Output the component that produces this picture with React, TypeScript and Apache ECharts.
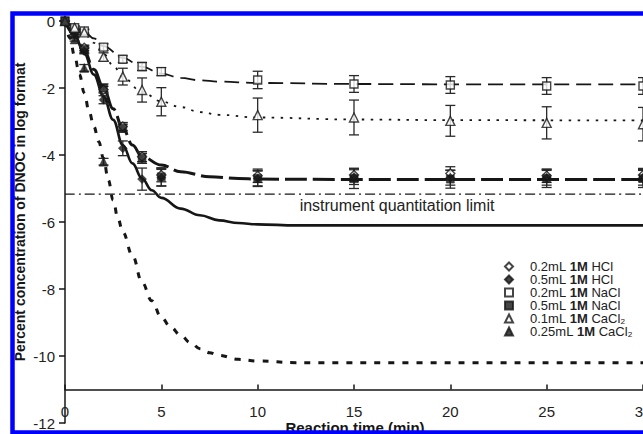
import React, { useEffect, useRef } from "react";
import * as echarts from "echarts";

// ---- data ----
const times = [0, 0.5, 1, 2, 3, 4, 5, 10, 15, 20, 25, 30];

const hcl02 = [0, -0.25, -0.8, -2.05, -3.15, -4.05, -4.6, -4.62, -4.6, -4.55, -4.62, -4.6];
const hcl02Err = [0, 0.05, 0.08, 0.1, 0.12, 0.15, 0.2, 0.2, 0.2, 0.2, 0.2, 0.2];
const hcl05 = [0, -0.35, -0.9, -2.35, -3.8, -4.72, -4.68, -4.7, -4.66, -4.68, -4.68, -4.68];
const hcl05Err = [0, 0.05, 0.08, 0.12, 0.22, 0.33, 0.25, 0.22, 0.22, 0.22, 0.22, 0.22];
const nacl02 = [0, -0.2, -0.3, -0.78, -1.14, -1.36, -1.51, -1.76, -1.88, -1.91, -1.94, -1.94];
const nacl02Err = [0, 0.05, 0.06, 0.1, 0.1, 0.12, 0.12, 0.26, 0.25, 0.25, 0.25, 0.25];
const nacl05 = [0, -0.4, -0.85, -2.0, -3.2, -4.1, -4.65, -4.7, -4.7, -4.72, -4.7, -4.7];
const nacl05Err = [0, 0.06, 0.1, 0.12, 0.12, 0.15, 0.27, 0.24, 0.3, 0.27, 0.27, 0.27];
const cacl01 = [0, -0.2, -0.34, -1.07, -1.66, -2.06, -2.41, -2.81, -2.88, -2.98, -3.04, -3.08];
const cacl01Err = [0, 0.05, 0.08, 0.12, 0.25, 0.36, 0.42, 0.51, 0.52, 0.46, 0.48, 0.5];
const cacl025Times = [0, 0.5, 1, 2];
const cacl025 = [0, -0.55, -1.4, -4.2];
const cacl025Err = [0, 0.05, 0.1, 0.1];

// fitted curves
const fitNaCl02: number[][] = [[0, 0], [0.5, -0.15], [1, -0.32], [1.5, -0.52], [2, -0.75], [3, -1.1], [4, -1.37], [5, -1.57], [6, -1.7], [7, -1.77], [8, -1.81], [10, -1.85], [15, -1.88], [20, -1.89], [30, -1.89]];
const fitCaCl01: number[][] = [[0, 0], [0.5, -0.15], [1, -0.38], [1.5, -0.65], [2, -0.98], [2.5, -1.33], [3, -1.68], [4, -2.12], [5, -2.4], [6, -2.57], [7, -2.72], [8, -2.8], [10, -2.88], [15, -2.94], [20, -2.96], [30, -2.97]];
const fitNaCl05: number[][] = [[0, 0], [0.5, -0.4], [1, -0.9], [1.5, -1.45], [2, -2.0], [2.5, -2.62], [3, -3.2], [3.5, -3.7], [4, -4.05], [5, -4.3], [6, -4.5], [7.5, -4.65], [9, -4.7], [10, -4.72], [15, -4.73], [30, -4.73]];
const fitHCl05: number[][] = [[0, 0], [0.5, -0.42], [1, -0.97], [1.5, -1.6], [2, -2.25], [2.5, -2.95], [3, -3.7], [3.5, -4.25], [4, -4.7], [4.5, -5.05], [5, -5.28], [6, -5.6], [7, -5.8], [8, -5.95], [9, -6.03], [10, -6.07], [12, -6.1], [30, -6.1]];
const fitCaCl025: number[][] = [[0, 0], [0.25, -0.5], [0.5, -1.05], [0.75, -1.6], [1, -2.15], [1.25, -2.7], [1.5, -3.15], [1.75, -3.6], [2, -4.1], [2.25, -4.75], [2.5, -5.35], [2.75, -5.9], [3, -6.3], [3.5, -7.0], [4, -7.8], [4.5, -8.35], [5, -8.85], [5.5, -9.15], [6, -9.38], [6.5, -9.6], [7, -9.78], [7.5, -9.9], [8, -9.98], [9, -10.1], [10, -10.15], [12, -10.2], [30, -10.2]];
const quantLimit = -5.17;

const xTicks = { min: 0, max: 30, interval: 5 };
const yTicks = { min: -12, max: 0, interval: 2 };

const seriesNames = [
  "0.2mL 1M HCl",
  "0.5mL 1M HCl",
  "0.2mL 1M NaCl",
  "0.5mL 1M NaCl",
  "0.1mL 1M CaCl₂",
  "0.25mL 1M CaCl₂",
];

const FONT = "Liberation Sans, Arial, Helvetica, sans-serif";
const INK = "#161616";

function pts(ts: number[], vs: number[]) {
  return ts.map((t, i) => [t, vs[i]]);
}
function errs(ts: number[], vs: number[], es: number[]) {
  return ts
    .map((t, i) => [t, vs[i] - es[i], vs[i] + es[i]])
    .filter((d, i) => es[i] > 0);
}

function errorSeries(data: number[][]) {
  return {
    type: "custom",
    xAxisIndex: 0,
    yAxisIndex: 0,
    z: 4,
    silent: true,
    encode: { x: 0, y: [1, 2] },
    data,
    renderItem: (params: any, api: any) => {
      const x = api.value(0);
      const lo = api.coord([x, api.value(1)]);
      const hi = api.coord([x, api.value(2)]);
      const w = 5;
      const st = { stroke: "#2a2a2a", lineWidth: 1.3 };
      return {
        type: "group",
        children: [
          { type: "line", shape: { x1: hi[0], y1: hi[1], x2: lo[0], y2: lo[1] }, style: st },
          { type: "line", shape: { x1: hi[0] - w, y1: hi[1], x2: hi[0] + w, y2: hi[1] }, style: st },
          { type: "line", shape: { x1: lo[0] - w, y1: lo[1], x2: lo[0] + w, y2: lo[1] }, style: st },
        ],
      };
    },
  };
}

function fitLine(data: number[][], lineStyle: any) {
  return {
    type: "line",
    xAxisIndex: 0,
    yAxisIndex: 0,
    data,
    smooth: 0.4,
    smoothMonotone: "x",
    showSymbol: false,
    symbol: "none",
    z: 2,
    silent: true,
    lineStyle: { color: INK, cap: "butt", ...lineStyle },
  };
}

function scatter(name: string, data: number[][], symbol: string, filled: boolean, size: number) {
  return {
    type: "scatter",
    name,
    xAxisIndex: 0,
    yAxisIndex: 0,
    data,
    symbol,
    symbolSize: size,
    z: 5,
    itemStyle: filled
      ? { color: INK, borderColor: INK, borderWidth: 0.5 }
      : { color: "#ffffff", borderColor: INK, borderWidth: 1.4 },
  };
}

export default function App() {
  const ref = useRef<HTMLDivElement>(null);
  useEffect(() => {
    if (!ref.current) return;
    const chart = echarts.init(ref.current, null, { renderer: "svg" });
    const option: any = {
      animation: false,
      backgroundColor: "#ffffff",
      textStyle: { fontFamily: FONT },
      grid: [
        { left: 65, right: 0, top: 21, height: 368.5, outerBoundsMode: "none", containLabel: false },
        { left: 65, right: 0, top: 21, height: 402, outerBoundsMode: "none", containLabel: false },
      ],
      xAxis: [
        {
          type: "value",
          gridIndex: 0,
          ...xTicks,
          axisLine: { show: true, onZero: false, lineStyle: { color: INK, width: 1.5 } },
          axisTick: { show: true, inside: true, length: 5, lineStyle: { color: INK, width: 1.5 } },
          axisLabel: { margin: 14, fontSize: 15, color: "#222", fontFamily: FONT },
          splitLine: { show: false },
        },
        { type: "value", gridIndex: 1, ...xTicks, show: false },
      ],
      yAxis: [
        { type: "value", gridIndex: 0, min: -11, max: 0, show: false },
        {
          type: "value",
          gridIndex: 1,
          ...yTicks,
          axisLine: { show: true, onZero: false, lineStyle: { color: INK, width: 1.5 } },
          axisTick: { show: true, inside: false, length: 6, lineStyle: { color: INK, width: 1.5 } },
          axisLabel: { margin: 10, fontSize: 15, color: "#222", fontFamily: FONT },
          splitLine: { show: false },
        },
      ],
      legend: {
        data: seriesNames,
        orient: "vertical",
        left: 504,
        top: 260,
        itemWidth: 8,
        itemHeight: 8,
        itemGap: 0,
        padding: 0,
        selectedMode: false,
        textStyle: {
          fontSize: 13,
          lineHeight: 12.3,
          color: "#222",
          fontFamily: FONT,
          rich: {
            sp: { width: 12 },
            a: { fontSize: 13, lineHeight: 12.3, color: "#222", fontFamily: FONT },
            b: { fontSize: 13, lineHeight: 12.3, color: "#222", fontWeight: "bold", fontFamily: FONT },
          },
        },
        formatter: (name: string) => {
          const [p, q] = name.split(" 1M ");
          return `{sp|}{a|${p} }{b|1M}{a| ${q}}`;
        },
      },
      graphic: [
        {
          type: "text",
          x: 20,
          y: 212,
          rotation: Math.PI / 2,
          z: 10,
          style: {
            text: "Percent concentration of DNOC in log format",
            fontSize: 14,
            fontWeight: "bold",
            fontFamily: FONT,
            fill: INK,
            align: "center",
            verticalAlign: "middle",
          },
        },
        {
          type: "text",
          x: 355,
          y: 420,
          z: 10,
          style: {
            text: "Reaction time (min)",
            fontSize: 15,
            fontWeight: "bold",
            fontFamily: FONT,
            fill: INK,
            align: "center",
            verticalAlign: "top",
          },
        },
        {
          type: "text",
          x: 397,
          y: 205,
          z: 10,
          style: {
            text: "instrument quantitation limit",
            fontSize: 16,
            fontFamily: FONT,
            fill: "#222",
            align: "center",
            verticalAlign: "middle",
          },
        },
        {
          type: "rect",
          z: 100,
          shape: { x: 12.5, y: 13.5, width: 680, height: 419 },
          style: { fill: "none", stroke: "#0000ff", lineWidth: 4.5 },
        },
      ],
      series: [
        fitLine(fitNaCl02, { width: 1.8, type: [15, 7] }),
        fitLine(fitCaCl01, { width: 1.8, type: [2.5, 6.5] }),
        fitLine(fitNaCl05, { width: 3, type: [22, 6] }),
        fitLine(fitHCl05, { width: 2.6, type: "solid" }),
        fitLine(fitCaCl025, { width: 3, type: [6, 8] }),
        fitLine([[xTicks.min, quantLimit], [xTicks.max, quantLimit]], { width: 1.2, type: [10, 4, 2, 4] }),
        errorSeries(errs(times, nacl02, nacl02Err)),
        errorSeries(errs(times, cacl01, cacl01Err)),
        errorSeries(errs(times, nacl05, nacl05Err)),
        errorSeries(errs(times, hcl05, hcl05Err)),
        errorSeries(errs(times, hcl02, hcl02Err)),
        errorSeries(errs(cacl025Times, cacl025, cacl025Err)),
        scatter(seriesNames[0], pts(times, hcl02), "diamond", false, 9),
        scatter(seriesNames[1], pts(times, hcl05), "diamond", true, 9),
        scatter(seriesNames[2], pts(times, nacl02), "rect", false, 8),
        scatter(seriesNames[3], pts(times, nacl05), "rect", true, 8),
        scatter(seriesNames[4], pts(times, cacl01), "triangle", false, 9),
        scatter(seriesNames[5], pts(cacl025Times, cacl025), "triangle", true, 9),
      ],
    };
    chart.setOption(option);
    return () => chart.dispose();
  }, []);
  return (
    <div
      ref={ref}
      style={{ position: "fixed", left: 0, top: 0, width: 643, height: 434, background: "#fff" }}
    />
  );
}
